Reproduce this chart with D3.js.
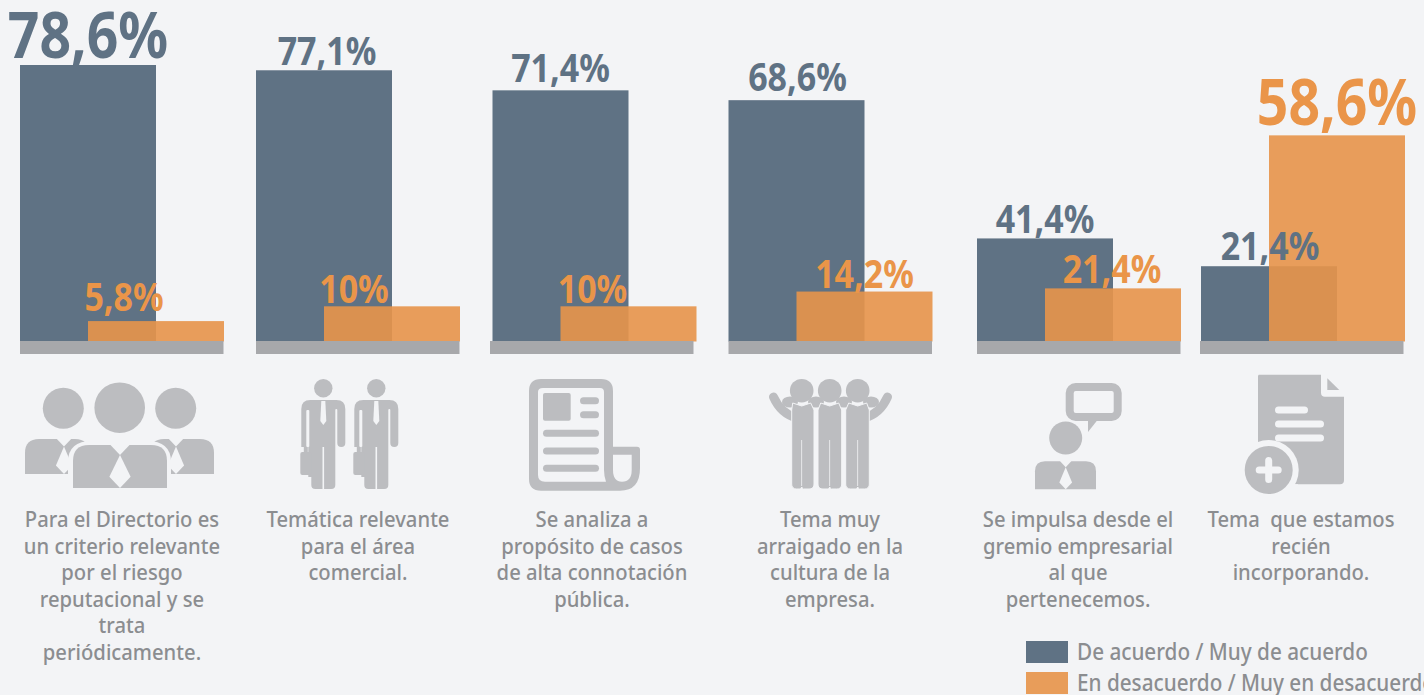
<!DOCTYPE html>
<html><head><meta charset="utf-8">
<script src="https://cdn.jsdelivr.net/npm/d3@7/dist/d3.min.js"></script>
<style>html,body{margin:0;padding:0;background:#f3f4f6;overflow:hidden}svg{display:block}</style>
</head><body><svg id="c" width="1424" height="695"></svg>
<script>
// ---- data ----
const categories = ["directorio","comercial","prensa","cultura","gremio","reciente"];
const acuerdoLabels = ["78,6%","77,1%","71,4%","68,6%","41,4%","21,4%"];
const desacuerdoLabels = ["5,8%","10%","10%","14,2%","21,4%","58,6%"];
// bar lengths as drawn in the picture (the last two groups are not drawn to the labelled value)
const acuerdoDrawn = [78.6,77.1,71.4,68.6,29.3,21.4];
const desacuerdoDrawn = [5.8,10,10,14.2,15.1,58.6];
const captions = [
 ["Para el Directorio es","un criterio relevante","por el riesgo","reputacional y se","trata","periódicamente."],
 ["Temática relevante","para el área","comercial."],
 ["Se analiza a","propósito de casos","de alta connotación","pública."],
 ["Tema muy","arraigado en la","cultura de la","empresa."],
 ["Se impulsa desde el","gremio empresarial","al que","pertenecemos."],
 ["Tema  que estamos","recién","incorporando."]
];
const legendItems = ["De acuerdo / Muy de acuerdo","En desacuerdo / Muy en desacuerdo"];

// ---- layout ----
const BG="#f3f4f6", DARK="#5f7284", ORANGE="#e7944b", BASE="#a7a8ab", ICON="#bcbdc0", TXT="#8b8d90";
const FONT="'Noto Sans','Open Sans',sans-serif";
const svg=d3.select("#c");
svg.append("rect").attr("width",1424).attr("height",695).attr("fill",BG);
const y=d3.scaleLinear().domain([0,78.6]).range([341.5,65]);
const x=d3.scaleOrdinal().domain(categories).range([20,256,492.5,728.5,977,1201]);
const baseX=d3.scaleOrdinal().domain(categories).range([20,256,490,728.5,977,1200]);
const capX=d3.scaleOrdinal().domain(categories).range([122,358,592,830,1078,1301]);
const BW=136, STEP=68;
const rows=categories.map((c,i)=>({c,i,a:acuerdoDrawn[i],d:desacuerdoDrawn[i]}));

svg.append("g").selectAll("rect").data(rows).join("rect")
 .attr("x",d=>x(d.c)).attr("width",BW).attr("y",d=>y(d.a)).attr("height",d=>y(0)-y(d.a)).attr("fill",DARK);
svg.append("g").selectAll("rect").data(rows).join("rect")
 .attr("x",d=>x(d.c)+STEP).attr("width",BW).attr("y",d=>y(d.d)).attr("height",d=>y(0)-y(d.d))
 .attr("fill",ORANGE).attr("fill-opacity",.91);
svg.append("g").selectAll("rect").data(rows).join("rect")
 .attr("x",d=>baseX(d.c)).attr("width",203.5).attr("y",341).attr("height",13).attr("fill",BASE);

// value labels: [centre x offset from group start, gap above bar, font size]
const acuerdoStyle=[[68,7,65],[71,5,40],[68,8,40],[69,9,40],[68,5,40],[69,6,40]];
const desacuerdoStyle=[[104,10,40],[98,3,40],[100,3,40],[136,4,40],[135,5,40],[136,10,65]];
function valueLabels(labels,vals,style,color){
 svg.append("g").selectAll("text").data(labels).join("text")
  .attr("transform",(t,i)=>`translate(${x(categories[i])+style[i][0]},${y(vals[i])-style[i][1]}) scale(.85,1)`)
  .attr("text-anchor","middle").attr("font-family",FONT).attr("font-weight",700)
  .attr("font-size",(t,i)=>style[i][2]).attr("fill",color).text(t=>t);
}
valueLabels(acuerdoLabels,acuerdoDrawn,acuerdoStyle,DARK);
valueLabels(desacuerdoLabels,desacuerdoDrawn,desacuerdoStyle,"#ea9549");

// captions
captions.forEach((lines,i)=>{
 svg.append("g").selectAll("text").data(lines).join("text")
  .attr("transform",(t,j)=>`translate(${capX(categories[i])},${527+j*26.6}) scale(.92,1)`)
  .attr("text-anchor","middle").attr("font-family",FONT).attr("font-weight",500)
  .attr("font-size",22).attr("fill",TXT).attr("xml:space","preserve").text(t=>t);
});

// legend
const legY=d3.scalePoint().domain(legendItems).range([641,672]);
const leg=svg.append("g").selectAll("g").data(legendItems).join("g");
leg.append("rect").attr("x",1026).attr("y",d=>legY(d)).attr("width",42).attr("height",22)
 .attr("fill",(d,i)=>i?"#e89d5a":DARK);
leg.append("text").attr("transform",d=>`translate(1077,${legY(d)+19}) scale(.9,1)`)
 .attr("font-family",FONT).attr("font-weight",500).attr("font-size",23).attr("fill",TXT).text(d=>d);

// ---- pictograms ----
const g=svg.append("g");
const P=(d,f=ICON)=>g.append("path").attr("d",d).attr("fill",f);
const C=(cx,cy,r,f=ICON)=>g.append("circle").attr("cx",cx).attr("cy",cy).attr("r",r).attr("fill",f);
const R=(a,b,w,h,r=0,f=ICON)=>g.append("rect").attr("x",a).attr("y",b).attr("width",w).attr("height",h).attr("rx",r).attr("fill",f);
const L=(d,w,c=ICON)=>g.append("path").attr("d",d).attr("fill","none").attr("stroke",c).attr("stroke-width",w).attr("stroke-linecap","round").attr("stroke-linejoin","round");
function bust(x0,x1,t,b,r,cx,k){
 P(`M${x0},${b}V${t+r}Q${x0},${t} ${x0+r},${t}H${x1-r}Q${x1},${t} ${x1},${t+r}V${b}Z`);
 P(`M${cx-8*k},${t-.5}L${cx},${t+8*k}L${cx+8*k},${t-.5}Z`,BG);
 P(`M${cx},${t+8*k}L${cx+8.5*k},${b-9*k}L${cx},${b}L${cx-8.5*k},${b-9*k}Z`,BG);
}
// 1: three executives
C(63.3,408.3,20.5);C(119.7,407.7,25.3);C(175.7,408.3,20.5);
bust(25,89,439,474,14,64,.95);
bust(150,214,439,474,14,176,.95);
g.append("path").attr("d","M68,490V462Q68,441 92,441H147Q171,441 171,462V490Z").attr("fill",BG);
bust(73,167,445,488,16,120,1.25);

// 2: two men with briefcases
[323.3,376.3].forEach(cx=>{
 C(cx,388.3,9.2);
 P(`M${cx-22},${409}Q${cx-22},${400} ${cx-13},${400}H${cx+13}Q${cx+22},${400} ${cx+22},${409}V${443}a4,4 0 0 1 -8,0V${410}a1,1 0 0 0 -2,0V${447}H${cx+12}V${485}a4,4 0 0 1 -4,4H${cx+.8}V${447}H${cx-.8}V${489}H${cx-8}a4,4 0 0 1 -4,-4V${477}H${cx-15}V${447}H${cx-22}Z`);
 R(cx-17,410,3,37,1,BG);
 R(cx-23,452,11.5,23,2);
 R(cx-19.5,447,4,6,0);
 P(`M${cx-2},${401}L${cx+2},${401}L${cx+3},${421}L${cx},${425}L${cx-3},${421}Z`,BG);
});

// 3: newspaper
P("M541,379H601Q613,379 613,391V446.7H637Q640,446.7 640,449.7V468Q640,490.7 620,490.7H541Q529,490.7 529,479V391Q529,379 541,379Z");
P("M543,388H600Q604,388 604,392V470Q604,476 606,481.7H545Q538,481.7 538,475V392Q538,388 543,388Z",BG);
P("M613,454.7H631.7V470Q631.7,481.7 622,481.7Q613,481.7 613,470Z",BG);
R(543,393,27.7,27.7,2);
[400.7,414.7].forEach(v=>R(580,v-3.5,19,7,3.5));
[433.3,451,468.3].forEach(v=>R(543,v-3.5,56,7,3.5));

// 4: three people embracing
L("M773.5,397 Q781,414 797,418",9);L("M887.5,397 Q880,414 864,418",9);
[790,816,844,871].forEach(v=>g.append("ellipse").attr("cx",v).attr("cy",402).attr("rx",8).attr("ry",5.5).attr("fill",ICON));
[[801.7,791.7,814],[829.7,818,841.7],[857.7,845.7,869.3]].forEach(([cx,a,b])=>{
 P(`M${a},${410}L${cx-9},${403}L${cx},${406}L${cx+9},${403}L${b},${410}V${484}a4.5,4.5 0 0 1 -5,5H${cx+1.5}a4,4 0 0 1 -1.5,-2a4,4 0 0 1 -1.5,2H${a+5}a4.5,4.5 0 0 1 -5,-5Z`)
  .attr("stroke",BG).attr("stroke-width",1);
 R(cx-.4,440,.8,46,0,BG);
 C(cx,390.7,11.8);
});

// 5: person with speech bubble
g.append("rect").attr("x",1069.7).attr("y",387).attr("width",48).attr("height",30).attr("rx",6).attr("fill","none").attr("stroke",ICON).attr("stroke-width",8);
P("M1088,420V432L1097.5,420Z");
C(1065.7,438,16.5);
bust(1035,1096,461.3,489.3,10,1065.7,.75);

// 6: document with plus
P("M1258.7,374.7H1321V392.7a4,4 0 0 0 4,4H1344V480.3a4,4 0 0 1 -4,4H1262a4,4 0 0 1 -4,-4V376Z");
P("M1327.3,378.3V390H1339.3Z");
[[1275,1308,410],[1275,1324,424],[1275,1324,438]].forEach(([a,b,v])=>R(a,v-3.5,b-a,7,3.5,BG));
P("M1250,440H1256.7V484.3H1298V500H1230V440Z",BG);
C(1268.7,470,30,BG);C(1268.7,470,24);
L("M1268.7,460.5V479.5M1259.2,470H1278.2",7,BG);
</script></body></html>
